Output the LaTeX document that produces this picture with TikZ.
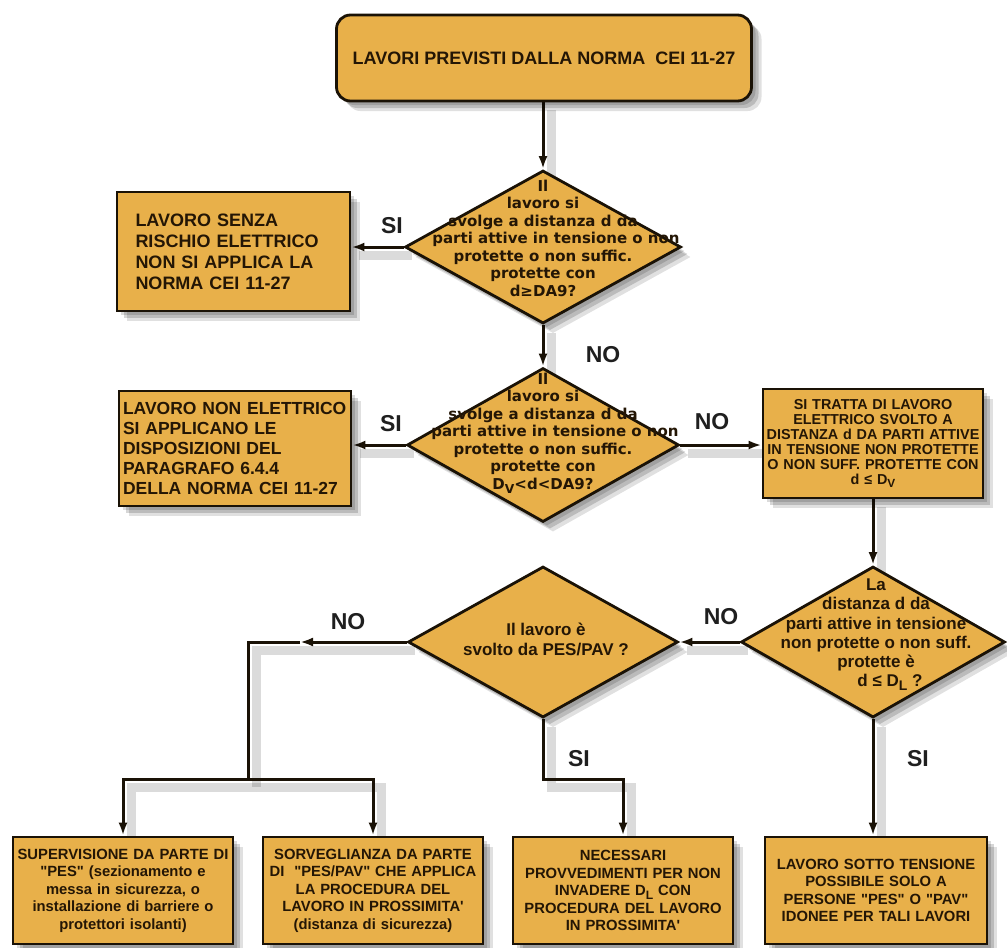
\documentclass[tikz,border=0pt]{standalone}
\usepackage{fontspec}
\usepackage{graphicx}
\setmainfont{Liberation Sans}
\newfontfamily\djv{DejaVu Sans}
\usetikzlibrary{shapes.geometric,shadows,arrows.meta}
\pgfdeclarelayer{bg}
\pgfsetlayers{bg,main}
\definecolor{fillc}{RGB}{232,176,74}
\definecolor{bordc}{RGB}{26,18,6}
\definecolor{txtc}{RGB}{36,22,5}
\newcommand\dsub[1]{\raisebox{-0.25em}{\scalebox{0.82}{#1}}}
\newcommand\qq{\textquotedbl}
\begin{document}
\begin{tikzpicture}[x=1pt,y=-1pt,
  shad/.style={drop shadow={shadow xshift=4pt,shadow yshift=-4pt,fill=black,opacity=0.14},
               drop shadow={shadow xshift=7pt,shadow yshift=-7pt,fill=black,opacity=0.16},
               drop shadow={shadow xshift=10pt,shadow yshift=-10pt,fill=black,opacity=0.12}},
  base/.style={draw=bordc,line width=2.8pt,fill=fillc,text=txtc,inner sep=0pt,shad},
  dia/.style={base,diamond,aspect=1.8},
  dtxt/.style={align=center,text=txtc,inner sep=0pt},
  bbox/.style={base,rectangle,minimum width=220pt,minimum height=107pt,text width=216pt,
     align=center,font=\fontsize{14.8}{17.5}\selectfont\bfseries},
  lbl/.style={font=\fontsize{23}{23}\selectfont\bfseries,text=black!88,inner sep=0pt},
  conn/.style={draw=bordc,line width=3pt,-{Latex[length=13pt,width=9pt]},
     preaction={draw=black,opacity=0.14,line width=9pt,arrows=-,
       transform canvas={shift={(8pt,-8pt)}}}},
  connp/.style={conn,-}
]
\useasboundingbox (0,0) rectangle (1007,948);

% top box
\node[base,rectangle,rounded corners=14pt,minimum width=415pt,minimum height=86pt,
  font=\fontsize{18}{21}\selectfont\bfseries] (top) at (544,58)
  {LAVORI PREVISTI DALLA NORMA\ \ CEI 11-27};

% decisions
\node[dia,minimum width=276pt,minimum height=153pt] (d1) at (543,247) {};
\node[dtxt,font=\djv\fontsize{15}{17.5}\selectfont\bfseries] (d1t) at (543,238)
  {Il\\lavoro si\\svolge a distanza d da\\\hspace*{26pt}parti attive in tensione o non\\protette o non suffic.\\protette con\\d≥DA9?};

\node[dia,minimum width=272pt,minimum height=154pt] (d2) at (543,445) {};
\node[dtxt,font=\djv\fontsize{15}{17.5}\selectfont\bfseries] (d2t) at (543,433)
  {Il\\lavoro si\\svolge a distanza d da\\\hspace*{24pt}parti attive in tensione o non\\protette o non suffic.\\protette con\\D\dsub{V}<d<DA9?};

\node[dia,minimum width=264pt,minimum height=151pt] (d3) at (873,642) {};
\node[dtxt,font=\fontsize{17}{19.2}\selectfont\bfseries] (d3t) at (876,635)
  {La\\distanza d da\\parti attive in tensione\\non protette o non suff.\\protette è\\\hspace*{28pt}d ≤ D\dsub{L} ?};

\node[dia,minimum width=270pt,minimum height=151pt] (d4) at (543,642) {};
\node[dtxt,font=\fontsize{17}{20}\selectfont\bfseries] (d4t) at (546,639)
  {Il lavoro è\\svolto da PES/PAV ?};

% side boxes
\node[base,rectangle,minimum width=233pt,minimum height=119pt,text width=196pt,align=left,
  font=\fontsize{18}{21}\selectfont\bfseries] (b1) at (233.5,251.5)
  {LAVORO SENZA\\RISCHIO ELETTRICO\\NON SI APPLICA LA\\NORMA CEI 11-27};

\node[base,rectangle,minimum width=232pt,minimum height=115pt,text width=224pt,align=left,
  font=\fontsize{17.5}{19.8}\selectfont\bfseries] (b2) at (235,448.5)
  {LAVORO NON ELETTRICO\\SI APPLICANO LE\\DISPOSIZIONI DEL\\PARAGRAFO 6.4.4\\DELLA NORMA CEI 11-27};

\node[base,rectangle,minimum width=220pt,minimum height=109pt,text width=216pt,align=center,
  font=\fontsize{14.4}{15}\selectfont\bfseries] (b3) at (873,443.5)
  {SI TRATTA DI LAVORO\\ELETTRICO SVOLTO A\\DISTANZA d DA PARTI ATTIVE\\IN TENSIONE NON PROTETTE\\O NON SUFF. PROTETTE CON\\d ≤ D\dsub{V}};

% bottom boxes
\node[bbox] (b5) at (123,890.5)
  {SUPERVISIONE DA PARTE DI\\\qq PES\qq{} (sezionamento e\\messa in sicurezza, o\\installazione di barriere o\\protettori isolanti)};
\node[bbox] (b6) at (373,890.5)
  {SORVEGLIANZA DA PARTE\\DI\ \ \qq PES/PAV\qq{} CHE APPLICA\\LA PROCEDURA DEL\\LAVORO IN PROSSIMITA\textquotesingle\\(distanza di sicurezza)};
\node[bbox] (b7) at (623,890.5)
  {NECESSARI\\PROVVEDIMENTI PER NON\\INVADERE D\dsub{L} CON\\PROCEDURA DEL LAVORO\\IN PROSSIMITA\textquotesingle};
\node[bbox,minimum width=222pt] (b8) at (876,890.5)
  {LAVORO SOTTO TENSIONE\\POSSIBILE SOLO A\\PERSONE \qq PES\qq{} O \qq PAV\qq\\IDONEE PER TALI LAVORI};

% labels
\node[lbl] (l1) at (392,226) {SI};
\node[lbl] (l2) at (603,355) {NO};
\node[lbl] (l3) at (391,424) {SI};
\node[lbl] (l4) at (712,422) {NO};
\node[lbl] (l5) at (721,617) {NO};
\node[lbl] (l6) at (348,622) {NO};
\node[lbl] (l7) at (579,759) {SI};
\node[lbl] (l8) at (918,759) {SI};

\coordinate (nomid) at (300,642);
\coordinate (nocorner) at (248,642);
\coordinate (split) at (248,779);
\coordinate (sij) at (543,779);

\begin{pgfonlayer}{bg}
\fill[white] (0,0) rectangle (1007,948);
\draw[conn] (top.south -| d1.north) -- (d1.north);
\draw[conn] (d1.west) -- (d1.west -| b1.east);
\draw[conn] (d1.south) -- (d2.north);
\draw[conn] (d2.west) -- (d2.west -| b2.east);
\draw[conn] (d2.east) -- (d2.east -| b3.west);
\draw[conn] (b3.south) -- (d3.north);
\draw[conn] (d3.west) -- (d4.east);
\draw[conn] (d4.west) -- (nomid);
\draw[connp] (nomid) -- (nocorner) -- (split);
\draw[conn] (split) -| (b5.north);
\draw[conn] (split) -| (b6.north);
\draw[conn] (d4.south) -- (sij) -| (b7.north);
\draw[conn] (d3.south) -- (d3.south |- b8.north);
\end{pgfonlayer}
\end{tikzpicture}
\end{document}
